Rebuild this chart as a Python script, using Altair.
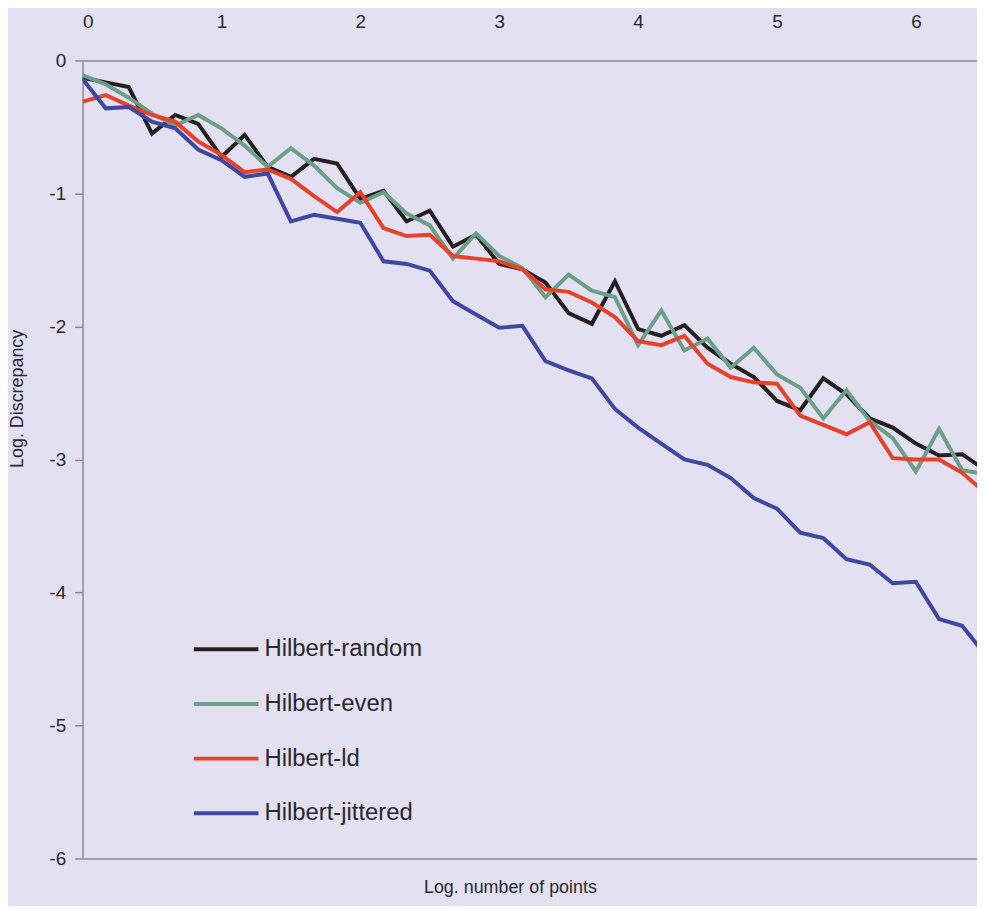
import altair as alt
import pandas as pd

# x positions (log10 of number of points)
log_points = [0.0, 0.167, 0.333, 0.5, 0.667, 0.833, 1.0, 1.167, 1.333, 1.5,
              1.667, 1.833, 2.0, 2.167, 2.333, 2.5, 2.667, 2.833, 3.0, 3.167,
              3.333, 3.5, 3.667, 3.833, 4.0, 4.167, 4.333, 4.5, 4.667, 4.833,
              5.0, 5.167, 5.333, 5.5, 5.667, 5.833, 6.0, 6.167, 6.333, 6.5]

series_names = ["Hilbert-random", "Hilbert-even", "Hilbert-ld", "Hilbert-jittered"]
series_colors = ["#231f22", "#6c9f87", "#e6412b", "#3f47a0"]

hilbert_random = [-0.13, -0.165, -0.20, -0.55, -0.41, -0.476, -0.725, -0.56, -0.80, -0.875,
                  -0.74, -0.775, -1.04, -0.98, -1.21, -1.13, -1.40, -1.31, -1.53, -1.57,
                  -1.67, -1.90, -1.98, -1.66, -2.02, -2.07, -1.99, -2.16, -2.28, -2.38,
                  -2.56, -2.63, -2.39, -2.51, -2.69, -2.76, -2.88, -2.97, -2.96, -3.08]

hilbert_even = [-0.11, -0.18, -0.28, -0.40, -0.49, -0.41, -0.51, -0.64, -0.80, -0.66,
                -0.79, -0.96, -1.07, -0.99, -1.15, -1.24, -1.49, -1.30, -1.47, -1.56,
                -1.78, -1.61, -1.73, -1.78, -2.14, -1.88, -2.18, -2.09, -2.31, -2.16,
                -2.36, -2.46, -2.69, -2.48, -2.71, -2.84, -3.09, -2.77, -3.08, -3.11]

hilbert_ld = [-0.31, -0.26, -0.34, -0.41, -0.46, -0.61, -0.71, -0.84, -0.82, -0.89,
              -1.02, -1.14, -0.99, -1.26, -1.32, -1.31, -1.47, -1.49, -1.51, -1.57,
              -1.72, -1.74, -1.82, -1.93, -2.11, -2.14, -2.07, -2.28, -2.38, -2.42,
              -2.43, -2.67, -2.74, -2.81, -2.72, -2.99, -3.00, -3.00, -3.10, -3.25]

hilbert_jittered = [-0.14, -0.36, -0.35, -0.46, -0.51, -0.67, -0.75, -0.875, -0.85, -1.21,
                    -1.16, -1.19, -1.22, -1.51, -1.53, -1.58, -1.81, -1.91, -2.01, -1.995,
                    -2.26, -2.33, -2.39, -2.62, -2.76, -2.88, -3.00, -3.04, -3.14, -3.29,
                    -3.37, -3.55, -3.59, -3.75, -3.79, -3.93, -3.92, -4.20, -4.25, -4.47]

x_ticks = [0, 1, 2, 3, 4, 5, 6]
y_ticks = [0, -1, -2, -3, -4, -5, -6]

rows = []
for name, vals in zip(series_names, [hilbert_random, hilbert_even, hilbert_ld, hilbert_jittered]):
    for i, (x, y) in enumerate(zip(log_points, vals)):
        rows.append({"series": name, "logn": x, "disc": y, "idx": i})
df = pd.DataFrame(rows)

FONT = "Liberation Sans"
TEXT = "#2a2730"
AXIS = "#8c8a94"

x_scale = alt.Scale(domain=[0, 6.44], nice=False, zero=False)
y_scale = alt.Scale(domain=[-6, 0], nice=False, zero=False)

y_axis = alt.Axis(values=y_ticks, labelExpr="'' + datum.value", title="Log. Discrepancy",
                  titleX=-65, titleY=340, titleAngle=270,
                  titleAlign="center", titleBaseline="middle",
                  titleFontSize=18, titleFont=FONT, titleColor=TEXT,
                  titleFontWeight="normal", tickSize=8, tickColor=AXIS,
                  tickWidth=1.5, labelPadding=9, labelFontSize=19,
                  labelFont=FONT, labelColor=TEXT, domain=True,
                  domainColor=AXIS, domainWidth=1.5, grid=False)

frame = alt.Chart(df).mark_line(strokeOpacity=0, clip=True).encode(
    x=alt.X("logn:Q", scale=x_scale,
            axis=alt.Axis(orient="bottom", labels=False, ticks=False, domain=True,
                          grid=False, title="Log. number of points",
                          titleX=430, titleY=29, titleAlign="center",
                          titleBaseline="middle", titleFontSize=18,
                          titleFont=FONT, titleColor=TEXT, titleFontWeight="normal",
                          domainColor=AXIS, domainWidth=1.5)),
    y=alt.Y("disc:Q", scale=y_scale, axis=y_axis),
    detail="series:N",
    order="idx:Q",
)

lines = alt.Chart(df).mark_line(strokeWidth=4, clip=True).encode(
    x=alt.X("logn:Q", scale=x_scale,
            axis=alt.Axis(orient="top", values=x_ticks, format="d", title=None,
                          ticks=False, tickSize=0, labelPadding=29, domain=True,
                          grid=False, labelFontSize=19, labelFont=FONT,
                          labelColor=TEXT, domainColor=AXIS, domainWidth=1.5)),
    y=alt.Y("disc:Q", scale=y_scale, axis=y_axis),
    color=alt.Color("series:N",
                    scale=alt.Scale(domain=series_names, range=series_colors),
                    legend=alt.Legend(title=None, orient="none", legendX=110,
                                      legendY=558, symbolType="stroke",
                                      symbolSize=4225, symbolStrokeWidth=4,
                                      labelFontSize=24, labelFont=FONT,
                                      labelColor=TEXT, labelOffset=4,
                                      rowPadding=8, padding=0,
                                      direction="vertical")),
    order="idx:Q",
)

chart = alt.layer(frame, lines).resolve_axis(x="independent", y="shared").properties(
    width=900,
    height=803,
    autosize=alt.AutoSizeParams(type="none"),
    padding={"left": 75, "top": 50, "right": 0, "bottom": 45},
    background="#e3e1f1",
).configure_view(stroke=None)

chart.save("out.html", embed_options={"renderer": "svg", "actions": False})
